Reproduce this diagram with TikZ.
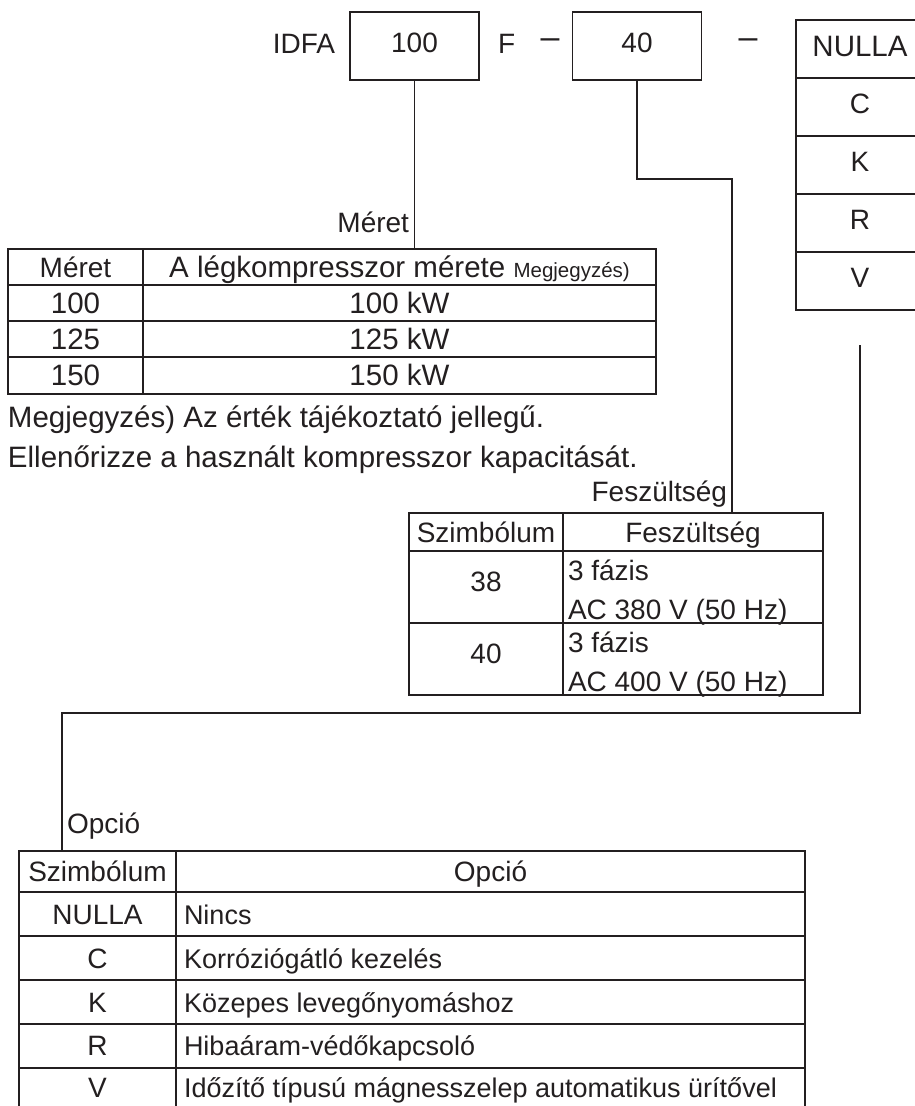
\documentclass[tikz,border=0pt]{standalone}
\usepackage{fontspec}
\setmainfont{Liberation Sans}
\usetikzlibrary{positioning}
\definecolor{ink}{HTML}{231F20}

\begin{document}
\begin{tikzpicture}[x=1pt, y=-1pt, line width=1.7pt, color=ink,
    every node/.style={inner sep=0pt, outer sep=0pt, font=\fontsize{28}{34}\selectfont},
    box/.style={draw, minimum width=129pt, minimum height=68pt, text depth=6pt},
    optcell/.style={draw, minimum width=128pt, minimum height=58pt, text depth=6pt},
    dashmark/.style={font=\fontsize{34}{40}\selectfont},
    txt/.style={anchor=base},
    lft/.style={anchor=base west},
    rgt/.style={anchor=base east},
    big/.style={font=\fontsize{29.5}{34}\selectfont},
    narrow/.style={font=\fontsize{27}{32}\selectfont}]
	\useasboundingbox (0,0) rectangle (915,1106);
	\clip (0,0) rectangle (915,1106);
	% model code
	\node[box] (box100) at (414.5,46) {100};
	\node[box] (box40) at (637,46) {40};
	\node[rgt] (idfa) at (335,53) {IDFA};
	\node[lft] (f) at (498,53) {F};
	\node[dashmark] (dash1) at (550,44) {–};
	\node[dashmark] (dash2) at (748,44) {–};
	\node[optcell, font=\fontsize{29.5}{34}\selectfont] (optN) at (860,49) {NULLA};
	\node[optcell] (optC) [below=0pt of optN] {C};
	\node[optcell] (optK) [below=0pt of optC] {K};
	\node[optcell] (optR) [below=0pt of optK] {R};
	\node[optcell] (optV) [below=0pt of optR] {V};
	% connectors
	\coordinate (meret) at (414.5,249);
	\coordinate (feszbend) at (732,179);
	\coordinate (fesz) at (732,513);
	\coordinate (optstart) at (860,345);
	\coordinate (optbend) at (62,713);
	\coordinate (opcio) at (62,851);
	\draw[line width=1.5pt] (box100) -- (meret);
	\draw[line width=1.5pt] (box40) |- (feszbend) -- (fesz);
	\draw[line width=1.5pt] (optstart) |- (optbend) -- (opcio);
	\node[rgt] (meretlbl) at (409,232) {Méret};
	\node[rgt] (feszlbl) at (727,501) {Feszültség};
	\node[lft] (opciolbl) at (67,833) {Opció};
	% size table
	\draw (8,249) rectangle (656,394);
	\draw (143,249) -- (143,394);
	\draw (8,285) -- (656,285) (8,321) -- (656,321) (8,357) -- (656,357);
	\node[txt] (mh1) at (75.5,277) {Méret};
	\node[txt, big] (mh2) at (399.5,277) {A légkompresszor mérete {\fontsize{20.5}{24}\selectfont Megjegyzés)}};
	\node[txt, big] (m1a) at (75.5,313) {100};
	\node[txt, big] (m1b) at (399.5,313) {100 kW};
	\node[txt, big] (m2a) at (75.5,349) {125};
	\node[txt, big] (m2b) at (399.5,349) {125 kW};
	\node[txt, big] (m3a) at (75.5,385.5) {150};
	\node[txt, big] (m3b) at (399.5,385.5) {150 kW};
	\node[lft, big] (note1) at (8,427) {Megjegyzés) Az érték tájékoztató jellegű.};
	\node[lft, big] (note2) at (8,467) {Ellenőrizze a használt kompresszor kapacitását.};
	% voltage table
	\draw (409,513) rectangle (823,695);
	\draw (563,513) -- (563,695);
	\draw (409,551) -- (823,551) (409,623) -- (823,623);
	\node[txt] (fh1) at (486,542) {Szimbólum};
	\node[txt] (fh2) at (693,542) {Feszültség};
	\node[txt] (f1a) at (486,591) {38};
	\node[lft] (f1b) at (568,580) {3 fázis};
	\node[lft] (f1c) at (568,619) {AC 380 V (50 Hz)};
	\node[txt] (f2a) at (486,663) {40};
	\node[lft] (f2b) at (568,652) {3 fázis};
	\node[lft] (f2c) at (568,691) {AC 400 V (50 Hz)};
	% option table
	\draw (19,851) rectangle (805,1112);
	\draw (176,851) -- (176,1112);
	\draw (19,892) -- (805,892) (19,936) -- (805,936) (19,980) -- (805,980)
	      (19,1024) -- (805,1024) (19,1068) -- (805,1068);
	\node[txt] (oh1) at (97.5,881.5) {Szimbólum};
	\node[txt] (oh2) at (490.5,881.5) {Opció};
	\node[txt] (o1a) at (97.5,924) {NULLA};
	\node[lft, narrow] (o1b) at (184,924) {Nincs};
	\node[txt] (o2a) at (97.5,968) {C};
	\node[lft, narrow] (o2b) at (184,968) {Korróziógátló kezelés};
	\node[txt] (o3a) at (97.5,1012) {K};
	\node[lft, narrow] (o3b) at (184,1012) {Közepes levegőnyomáshoz};
	\node[txt] (o4a) at (97.5,1055) {R};
	\node[lft, narrow] (o4b) at (184,1055) {Hibaáram-védőkapcsoló};
	\node[txt] (o5a) at (97.5,1097) {V};
	\node[lft, narrow] (o5b) at (184,1097) {Időzítő típusú mágnesszelep automatikus ürítővel};
\end{tikzpicture}
\end{document}
